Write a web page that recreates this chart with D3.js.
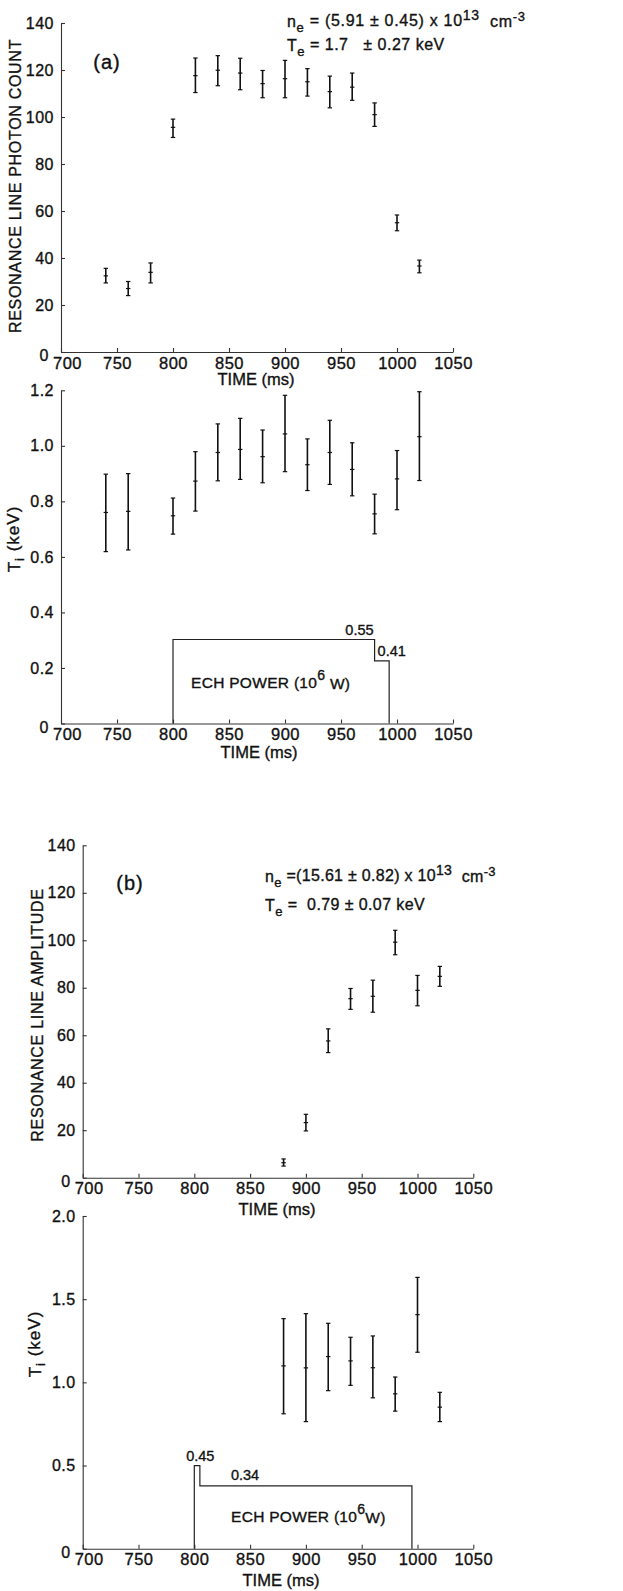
<!DOCTYPE html>
<html>
<head>
<meta charset="utf-8">
<script src="https://cdn.jsdelivr.net/npm/d3@7"></script>
<style>
  html, body { margin: 0; padding: 0; background: #fff; }
  svg { display: block; }
  text { font-family: "Liberation Sans", Arial, sans-serif; fill: #111; stroke: #111; stroke-width: 0.35px; white-space: pre; }
</style>
</head>
<body>
<svg id="chart" width="623" height="1591"></svg>
<script>
// ---------- Data ----------
// Panel (a): resonance line photon count
const aTime    = [740, 760, 780, 800, 820, 840, 860, 880, 900, 920, 940, 960, 980, 1000, 1020];
const aCount   = [32.4, 27.0, 33.9, 95.6, 117.6, 119.9, 118.7, 114.2, 116.3, 115.0, 110.8, 112.7, 101.0, 55.0, 36.6];
const aCountLo = [29.4, 24.0, 29.4, 91.3, 110.4, 113.3, 111.6, 108.2, 108.2, 108.9, 103.9, 107.1, 96.0, 51.6, 33.7];
const aCountHi = [35.6, 30.0, 37.9, 99.1, 125.1, 126.1, 125.0, 119.8, 124.1, 120.6, 117.4, 118.7, 106.0, 58.3, 39.1];

// Panel (a): ion temperature
const aTiTime = [740, 760, 800, 820, 840, 860, 880, 900, 920, 940, 960, 980, 1000, 1020];
const aTi     = [0.760, 0.764, 0.748, 0.873, 0.976, 0.987, 0.961, 1.043, 0.932, 0.976, 0.915, 0.755, 0.881, 1.033];
const aTiLo   = [0.619, 0.625, 0.682, 0.765, 0.874, 0.879, 0.867, 0.907, 0.839, 0.861, 0.820, 0.683, 0.770, 0.875];
const aTiHi   = [0.898, 0.900, 0.812, 0.979, 1.079, 1.099, 1.057, 1.182, 1.025, 1.092, 1.011, 0.826, 0.983, 1.195];

// Panel (a): ECH power (MW) steps
const aEchTimes  = [800, 980, 993];
const aEchPower  = [0.55, 0.41];

// Panel (b): resonance line amplitude
const bTime  = [880, 900, 920, 940, 960, 980, 1000, 1020];
const bAmp   = [6.3, 23.2, 57.6, 75.4, 76.4, 99.2, 78.9, 84.8];
const bAmpLo = [4.9, 19.7, 52.7, 70.9, 69.7, 93.9, 72.4, 80.6];
const bAmpHi = [7.9, 26.7, 62.7, 79.7, 83.2, 104.2, 85.2, 89.0];

// Panel (b): ion temperature
const bTiTime = [880, 900, 920, 940, 960, 980, 1000, 1020];
const bTi     = [1.099, 1.087, 1.155, 1.129, 1.088, 0.931, 1.407, 0.851];
const bTiLo   = [0.811, 0.764, 0.950, 0.982, 0.907, 0.827, 1.181, 0.764];
const bTiHi   = [1.383, 1.413, 1.355, 1.271, 1.279, 1.032, 1.631, 0.940];

// Panel (b): ECH power (MW) steps
const bEchTimes = [800, 805, 995];
const bEchPower = [0.45, 0.34];

// Ticks
const timeTicks  = [700, 750, 800, 850, 900, 950, 1000, 1050];
const countTicks = [0, 20, 40, 60, 80, 100, 120, 140];
const aTiTicks   = [0, 0.2, 0.4, 0.6, 0.8, 1.0, 1.2];
const bTiTicks   = [0, 0.5, 1.0, 1.5, 2.0];

// ---------- Drawing ----------
const svg = d3.select("#chart");

function makePanel(o) {
  const x = d3.scaleLinear().domain([700, 1050]).range([o.x0, o.x1]);
  const y = d3.scaleLinear().domain(o.yDomain).range([o.y0, o.y1]);
  const g = svg.append("g");

  // y axis
  const ya = g.append("g").attr("transform", `translate(${o.x0},0)`)
    .call(d3.axisLeft(y).tickValues(o.yTicks).tickSize(-4).tickSizeOuter(0)
      .tickPadding(7).tickFormat(o.yFmt));
  ya.selectAll("text").style("font-size", "16px").style("letter-spacing", "0.5px");
  ya.selectAll("text").filter(d => d === 0).attr("dx", -5).attr("dy", "0.55em");

  // x axis
  const xa = g.append("g").attr("transform", `translate(0,${o.y0})`)
    .call(d3.axisBottom(x).tickValues(timeTicks).tickSize(-4).tickSizeOuter(0)
      .tickPadding(4).tickFormat(d3.format("d")));
  xa.selectAll("text").style("font-size", "16.5px").style("letter-spacing", "0.5px").attr("dy", "0.76em");
  xa.selectAll("text").filter(d => d === 700).attr("dx", 6);

  g.selectAll(".domain, .tick line").attr("stroke", "#333").attr("stroke-width", 1.1);

  // x title
  g.append("text").attr("x", o.xTitleX).attr("y", o.xTitleY)
    .attr("text-anchor", "middle").style("font-size", "16.5px").text("TIME (ms)");

  return { x, y, g };
}

function errorBars(p, t, v, lo, hi) {
  const grp = p.g.append("g").attr("stroke", "#111").attr("fill", "none");
  t.forEach((tt, i) => {
    const cx = p.x(tt);
    grp.append("line").attr("x1", cx).attr("x2", cx)
      .attr("y1", p.y(lo[i])).attr("y2", p.y(hi[i])).attr("stroke-width", 1.6);
    [lo[i], hi[i], v[i]].forEach(val => {
      grp.append("line").attr("x1", cx - 2.2).attr("x2", cx + 2.2)
        .attr("y1", p.y(val)).attr("y2", p.y(val)).attr("stroke-width", 1.2);
    });
  });
}

function echStep(p, times, powers, pScale) {
  const pts = [[times[0], 0], [times[0], powers[0]], [times[1], powers[0]],
               [times[1], powers[1]], [times[2], powers[1]], [times[2], 0]];
  const line = d3.line().x(d => p.x(d[0])).y(d => pScale(d[1]));
  p.g.append("path").attr("d", line(pts)).attr("fill", "none")
    .attr("stroke", "#222").attr("stroke-width", 1.2);
}

function yTitle(x, y, parts, size, ls) {
  const t = svg.append("text").attr("transform", `translate(${x},${y}) rotate(-90)`)
    .attr("text-anchor", "middle").style("font-size", size + "px")
    .style("letter-spacing", (ls || 0) + "px");
  parts.forEach(pt => {
    const s = t.append("tspan").text(pt.t);
    if (pt.sub) s.attr("dy", "0.3em").style("font-size", (size * 0.75) + "px");
    if (pt.after) s.attr("dy", "-0.3em");
  });
  return t;
}

function richText(x, y, parts, size) {
  const t = svg.append("text").attr("x", x).attr("y", y).style("font-size", size + "px");
  parts.forEach(pt => {
    const s = t.append("tspan").text(pt.t);
    if (pt.dy) s.attr("dy", pt.dy);
    if (pt.fs) s.style("font-size", pt.fs + "px");
  });
  return t;
}

// ---- Panel a, top ----
const pA1 = makePanel({ x0: 61, x1: 453, y0: 352, y1: 23, yDomain: [0, 140], yTicks: countTicks,
  yFmt: d3.format("d"), xTitleX: 256, xTitleY: 385 });
errorBars(pA1, aTime, aCount, aCountLo, aCountHi);
yTitle(21, 186, [{ t: "RESONANCE LINE PHOTON COUNT" }], 16, 0.7);
svg.append("text").attr("x", 107).attr("y", 69).attr("text-anchor", "middle")
  .style("font-size", "20px").style("letter-spacing", "1px").text("(a)");
richText(287, 27, [{ t: "n" }, { t: "e", dy: "0.35em", fs: 13 }, { t: " = (5.91 ± 0.45) x 10", dy: "-0.35em" },
  { t: "13", dy: "-0.45em", fs: 14 }, { t: "  cm", dy: "0.45em" }, { t: "-3", dy: "-0.45em", fs: 13 }], 16)
  .style("letter-spacing", "0.7px");
richText(287, 51, [{ t: "T" }, { t: "e", dy: "0.35em", fs: 13 }, { t: " = 1.7   ± 0.27 keV", dy: "-0.35em" }], 16)
  .style("letter-spacing", "0.5px");

// ---- Panel a, Ti ----
const pA2 = makePanel({ x0: 61, x1: 453, y0: 723.5, y1: 390.3, yDomain: [0, 1.2], yTicks: aTiTicks,
  yFmt: d => d === 0 ? "0" : d3.format(".1f")(d), xTitleX: 259, xTitleY: 758 });
errorBars(pA2, aTiTime, aTi, aTiLo, aTiHi);
const aPow = d3.scaleLinear().domain([0, 0.55]).range([pA2.y(0), pA2.y(0.3025)]);
echStep(pA2, aEchTimes, aEchPower, aPow);
richText(pA2.x(aEchTimes[1]) - 1, aPow(aEchPower[0]) - 5, [{ t: "0.55" }], 14.5).attr("text-anchor", "end");
richText(pA2.x(aEchTimes[1]) + 3, aPow(aEchPower[1]) - 5, [{ t: "0.41" }], 14.5);
richText(191, 688, [{ t: "ECH POWER (10" }, { t: "6", dy: "-0.6em", fs: 14 }, { t: " W)", dy: "0.6em" }], 15.5)
  .style("letter-spacing", "0.3px");
yTitle(20, 539, [{ t: "T" }, { t: "i", sub: true }, { t: " (keV)", after: true }], 17, 1);

// ---- Panel b, top ----
const pB1 = makePanel({ x0: 82.7, x1: 473.3, y0: 1177.7, y1: 845.3, yDomain: [0, 140], yTicks: countTicks,
  yFmt: d3.format("d"), xTitleX: 277, xTitleY: 1215 });
errorBars(pB1, bTime, bAmp, bAmpLo, bAmpHi);
yTitle(43, 1015, [{ t: "RESONANCE LINE AMPLITUDE" }], 16, 0.7);
svg.append("text").attr("x", 130).attr("y", 890).attr("text-anchor", "middle")
  .style("font-size", "20px").style("letter-spacing", "1px").text("(b)");
richText(265, 882, [{ t: "n" }, { t: "e", dy: "0.35em", fs: 13 }, { t: " =(15.61 ± 0.82) x 10", dy: "-0.35em" },
  { t: "13", dy: "-0.45em", fs: 14 }, { t: "  cm", dy: "0.45em" }, { t: "-3", dy: "-0.45em", fs: 13 }], 16)
  .style("letter-spacing", "0.3px");
richText(265, 911, [{ t: "T" }, { t: "e", dy: "0.35em", fs: 13 }, { t: " =  0.79 ± 0.07 keV", dy: "-0.35em" }], 16)
  .style("letter-spacing", "0.4px");

// ---- Panel b, Ti ----
const pB2 = makePanel({ x0: 82.7, x1: 473.3, y0: 1548.7, y1: 1216, yDomain: [0, 2.0], yTicks: bTiTicks,
  yFmt: d => d === 0 ? "0" : d3.format(".1f")(d), xTitleX: 281, xTitleY: 1586 });
errorBars(pB2, bTiTime, bTi, bTiLo, bTiHi);
const bPow = d3.scaleLinear().domain([0, 0.45]).range([pB2.y(0), pB2.y(0.5)]);
echStep(pB2, bEchTimes, bEchPower, bPow);
richText(pB2.x(bEchTimes[0]) + 6, bPow(bEchPower[0]) - 5, [{ t: "0.45" }], 14.5).attr("text-anchor", "middle");
richText(245, bPow(bEchPower[1]) - 6, [{ t: "0.34" }], 14.5).attr("text-anchor", "middle");
richText(231, 1522, [{ t: "ECH POWER (10" }, { t: "6", dy: "-0.6em", fs: 14 }, { t: "W)", dy: "0.6em" }], 15.5)
  .style("letter-spacing", "0.3px");
yTitle(41, 1344, [{ t: "T" }, { t: "i", sub: true }, { t: " (keV)", after: true }], 17, 1);
</script>
</body>
</html>
